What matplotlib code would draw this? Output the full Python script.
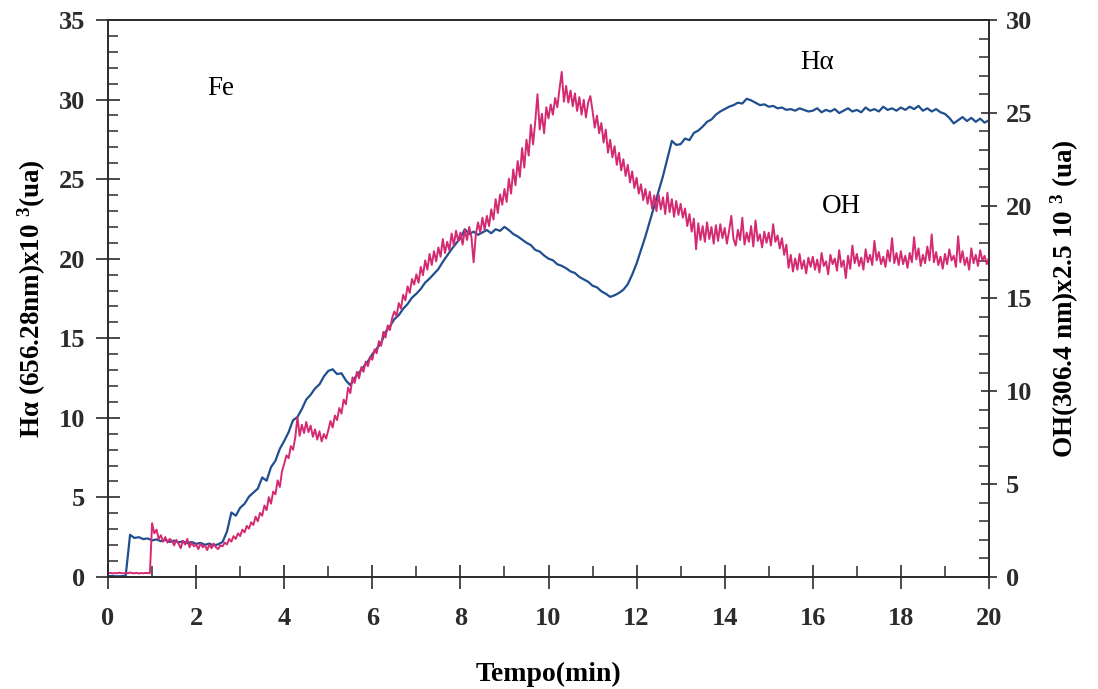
import numpy as np
import matplotlib
matplotlib.use('Agg')
import matplotlib.pyplot as plt
from matplotlib.ticker import MultipleLocator

plt.rcParams['font.family'] = ['Liberation Serif', 'DejaVu Serif']
plt.rcParams['mathtext.default'] = 'regular'

# Halpha emission, left axis, sampled every 0.1 min
t_ha = np.arange(0, 20.001, 0.1)
ha = [
    0.05, 0.06, 0.04, 0.05, 0.06, 2.65, 2.45, 2.50, 2.38, 2.42,
    2.30, 2.36, 2.25, 2.33, 2.20, 2.28, 2.18, 2.24, 2.12, 2.20,
    2.08, 2.14, 2.02, 2.10, 1.98, 2.05, 2.20, 2.85, 4.05, 3.85,
    4.35, 4.60, 5.05, 5.30, 5.55, 6.25, 6.05, 6.90, 7.30, 8.05,
    8.55, 9.10, 9.85, 10.05, 10.55, 11.15, 11.45, 11.85, 12.10, 12.60,
    12.95, 13.05, 12.75, 12.80, 12.35, 12.05, 12.50, 12.85, 13.20, 13.55,
    14.00, 14.35, 14.70, 15.40, 15.75, 16.20, 16.45, 16.85, 17.15, 17.55,
    17.80, 18.10, 18.50, 18.75, 19.05, 19.35, 19.80, 20.20, 20.60, 20.95,
    21.30, 21.85, 21.55, 21.70, 21.50, 21.65, 21.80, 21.60, 21.85, 21.75,
    22.00, 21.80, 21.55, 21.40, 21.20, 21.00, 20.85, 20.55, 20.45, 20.20,
    20.00, 19.90, 19.65, 19.55, 19.40, 19.20, 19.10, 18.85, 18.70, 18.55,
    18.30, 18.20, 17.95, 17.80, 17.60, 17.70, 17.85, 18.05, 18.40, 19.00,
    19.70, 20.55, 21.40, 22.35, 23.30, 24.25, 25.20, 26.30, 27.40, 27.15,
    27.20, 27.55, 27.45, 27.90, 28.05, 28.30, 28.60, 28.75, 29.05, 29.25,
    29.40, 29.55, 29.65, 29.80, 29.75, 30.05, 29.95, 29.80, 29.65, 29.70,
    29.55, 29.60, 29.45, 29.50, 29.35, 29.40, 29.30, 29.45, 29.35, 29.25,
    29.30, 29.45, 29.20, 29.35, 29.25, 29.40, 29.15, 29.30, 29.45, 29.25,
    29.35, 29.20, 29.50, 29.30, 29.40, 29.25, 29.55, 29.35, 29.45, 29.30,
    29.50, 29.35, 29.55, 29.40, 29.60, 29.30, 29.45, 29.25, 29.40, 29.20,
    29.10, 28.85, 28.50, 28.70, 28.90, 28.65, 28.85, 28.60, 28.80, 28.55,
    28.70,
]

# OH emission, right axis, sampled every 0.05 min
t_oh = np.arange(0, 20.001, 0.05)
oh = [
    0.20, 0.22, 0.19, 0.21, 0.20, 0.23, 0.21, 0.19, 0.22, 0.20, 0.24, 0.21, 0.20, 0.22, 0.19, 0.21, 0.20, 0.22, 0.21, 0.20,
    2.90, 2.35, 2.55, 2.05, 2.25, 1.90, 2.15, 1.85, 2.05, 1.95, 1.70, 2.00, 1.80, 1.55, 1.95, 1.75, 2.05, 1.60, 1.85, 1.65,
    1.75, 1.50, 1.80, 1.60, 1.70, 1.45, 1.75, 1.55, 1.80, 1.60, 1.50, 1.70, 1.65, 1.85, 1.75, 2.05, 1.90, 2.20, 2.05, 2.35,
    2.20, 2.55, 2.40, 2.75, 2.60, 2.95, 2.80, 3.25, 3.00, 3.45, 3.30, 3.85, 3.60, 4.30, 3.95, 4.60, 4.45, 5.20, 4.85, 5.70,
    6.10, 6.55, 6.40, 7.05, 6.85, 7.50, 8.60, 7.60, 8.20, 7.75, 8.35, 7.80, 8.15, 7.55, 7.95, 7.40, 7.85, 7.30, 7.70, 7.45,
    7.90, 8.40, 8.05, 8.70, 8.45, 9.10, 8.80, 9.55, 9.30, 10.20, 9.90, 10.75, 10.45, 11.05, 10.70, 11.30, 11.05, 11.60, 11.35, 11.85,
    11.70, 12.25, 12.05, 12.70, 12.45, 13.20, 12.90, 13.55, 13.30, 13.95, 14.30, 14.05, 14.75, 14.45, 15.20, 14.90, 15.65, 15.30, 16.05, 15.75,
    16.30, 15.85, 16.70, 16.25, 17.05, 16.55, 17.40, 16.80, 17.55, 17.00, 17.75, 17.25, 18.20, 17.45, 18.05, 17.60, 18.50, 17.85, 18.65, 18.10,
    18.55, 17.90, 18.70, 18.15, 18.85, 18.30, 16.95, 18.45, 19.10, 18.55, 19.35, 18.70, 19.45, 18.90, 19.80, 19.25, 20.35, 19.60, 20.60, 20.05,
    20.90, 20.20, 21.45, 20.65, 21.95, 21.10, 22.40, 21.55, 23.10, 22.05, 23.55, 22.70, 24.35, 23.30, 24.55, 26.00, 24.10, 24.95, 23.90, 25.30,
    24.70, 25.45, 24.90, 25.80, 25.30, 26.30, 27.20, 25.60, 26.45, 25.55, 26.20, 25.35, 26.05, 25.10, 25.85, 24.90, 25.70, 24.75, 25.55, 25.90,
    25.10, 24.20, 24.85, 23.90, 24.45, 23.40, 24.10, 22.85, 23.55, 22.60, 23.20, 22.20, 22.85, 21.90, 22.50, 21.60, 22.20, 21.25, 21.85, 20.95,
    21.50, 20.65, 21.15, 20.30, 20.90, 20.10, 20.75, 19.85, 20.55, 19.70, 20.60, 19.80, 20.45, 19.55, 20.70, 19.65, 20.35, 19.40, 20.25, 19.50,
    20.10, 19.35, 19.85, 18.90, 19.55, 18.60, 19.30, 17.65, 19.05, 18.15, 18.90, 18.05, 19.10, 18.20, 18.85, 17.95, 18.95, 18.10, 19.00, 18.25,
    18.80, 17.95, 18.65, 19.45, 18.20, 17.85, 18.70, 18.15, 19.35, 17.90, 18.55, 18.05, 18.90, 17.80, 19.20, 18.10, 18.45, 17.75, 18.60, 18.00,
    18.55, 17.85, 19.00, 18.05, 18.40, 17.70, 18.25, 17.35, 17.90, 16.65, 17.35, 16.45, 17.15, 16.55, 17.40, 16.60, 17.05, 16.35, 17.20, 16.70,
    17.25, 16.55, 17.10, 16.40, 17.45, 16.75, 17.00, 16.30, 17.35, 16.85, 17.15, 16.50, 17.60, 16.70, 17.05, 16.10, 17.30, 16.60, 17.85, 16.90,
    17.40, 16.75, 17.20, 16.55, 17.65, 16.95, 17.35, 16.80, 18.10, 17.05, 17.50, 16.85, 17.25, 16.70, 17.60, 17.00, 18.25, 16.90, 17.45, 16.80,
    17.55, 16.85, 17.30, 16.65, 17.45, 16.95, 18.30, 17.10, 17.70, 16.75, 17.35, 16.90, 17.80, 17.05, 18.45, 16.95, 17.50, 16.80, 17.25, 16.60,
    17.40, 16.85, 17.65, 17.05, 17.30, 16.70, 18.35, 16.95, 17.55, 16.80, 17.20, 16.55, 17.70, 16.90, 17.35, 16.75, 17.60, 17.05, 17.30, 16.85,
    17.20,
]

blue = '#1f4f8e'
magenta = '#d42a72'
axis_col = '#2b2b2b'

fig = plt.figure(figsize=(10.98, 6.89), dpi=100)
ax = fig.add_axes([0.0984, 0.1626, 0.8023, 0.8084])
ax2 = ax.twinx()

ax.plot(t_ha, ha, color=blue, lw=1.6)
ax2.plot(t_oh, oh, color=magenta, lw=1.4)

ax.set_xlim(0, 20)
ax.set_ylim(0, 35)
ax2.set_ylim(0, 30)

ax.xaxis.set_major_locator(MultipleLocator(2))
ax.xaxis.set_minor_locator(MultipleLocator(1))
ax.yaxis.set_major_locator(MultipleLocator(5))
ax.yaxis.set_minor_locator(MultipleLocator(1))
ax2.yaxis.set_major_locator(MultipleLocator(5))
ax2.yaxis.set_minor_locator(MultipleLocator(1))

for a in (ax, ax2):
    for s in a.spines.values():
        s.set_linewidth(1.2)
        s.set_color(axis_col)

tick_size = 19
ax.tick_params(axis='x', which='major', direction='inout', length=17, width=1.2,
               pad=13, labelsize=tick_size, colors=axis_col)
ax.tick_params(axis='x', which='minor', direction='in', length=8, width=1.1, colors=axis_col)
ax.tick_params(axis='y', which='major', direction='inout', length=17, width=1.2,
               pad=8, labelsize=tick_size, colors=axis_col)
ax.tick_params(axis='y', which='minor', direction='in', length=7, width=1.1, colors=axis_col)
ax2.tick_params(axis='y', which='major', direction='inout', length=12, width=1.2,
                pad=6, labelsize=tick_size, colors=axis_col)
ax2.tick_params(axis='y', which='minor', direction='in', length=7, width=1.1, colors=axis_col)

for lab in ax.get_xticklabels() + ax.get_yticklabels() + ax2.get_yticklabels():
    lab.set_fontweight('bold')

ax.set_xlabel('Tempo(min)', fontsize=20, fontweight='bold', labelpad=23)
ax.set_ylabel('H\u03b1 (656.28nm)x10 $^{3}$(ua)', fontsize=19.5, fontweight='bold', labelpad=8)
ax2.set_ylabel('OH(306.4 nm)x2.5 10 $^{3}$ (ua)', fontsize=19.5, fontweight='bold',
               rotation=90, labelpad=12)

ax.text(2.55, 30.7, 'Fe', fontsize=19.5, ha='center', va='center')
ax.text(16.1, 32.3, 'H\u03b1', fontsize=19.5, ha='center', va='center')
ax.text(16.65, 23.3, 'OH', fontsize=19.5, ha='center', va='center')

fig.savefig('out.png', dpi=100)
